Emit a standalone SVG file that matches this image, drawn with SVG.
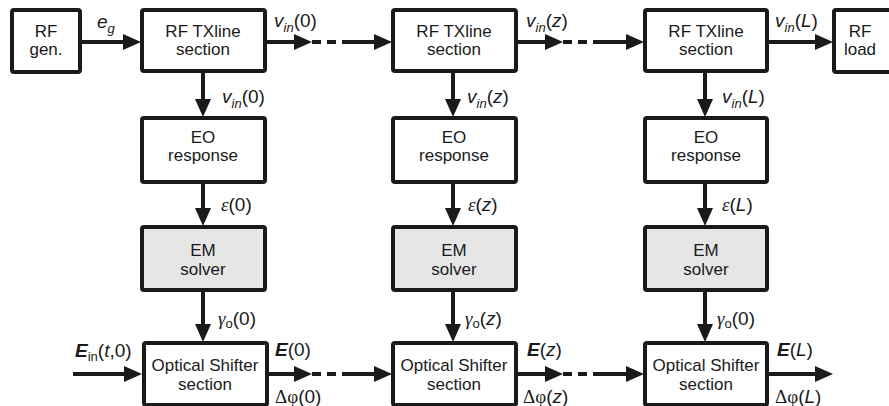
<svg xmlns="http://www.w3.org/2000/svg" width="889" height="406" viewBox="0 0 889 406">
<defs>
<marker id="ah" markerUnits="userSpaceOnUse" markerWidth="18" markerHeight="16" refX="0" refY="8" orient="auto" overflow="visible">
<path d="M0,0 L18,8 L0,16 z" fill="#1a1a1a"/>
</marker>
<style>
.box{fill:#fff;stroke:#1a1a1a;stroke-width:4}
.gray{fill:#e6e6e6}
.t{font-family:"Liberation Sans",Arial,sans-serif;font-size:17px;fill:#1a1a1a;text-anchor:middle}
.lbl{font-family:"Liberation Sans",Arial,sans-serif;font-size:19px;fill:#1a1a1a}
.it{font-style:italic}
.bi{font-style:italic;font-weight:bold}
.sub{font-size:13px}
.gr{font-family:"Liberation Serif","Times New Roman",serif}
.ln{stroke:#1a1a1a;stroke-width:4;fill:none}
.ar{marker-end:url(#ah)}
.da{stroke-dasharray:9 6}
</style>
</defs>
<g id="connectors">
<line class="ln ar" x1="80" y1="42" x2="123" y2="42"/>
<line class="ln ar" x1="265" y1="42" x2="294" y2="42"/>
<line class="ln da" x1="312" y1="42" x2="343" y2="42"/>
<line class="ln ar" x1="342" y1="42" x2="374" y2="42"/>
<line class="ln ar" x1="516" y1="42" x2="545" y2="42"/>
<line class="ln da" x1="563" y1="42" x2="597" y2="42"/>
<line class="ln ar" x1="596" y1="42" x2="626" y2="42"/>
<line class="ln ar" x1="767" y1="42" x2="815" y2="42"/>
<line class="ln ar" x1="203" y1="71" x2="203" y2="99"/>
<line class="ln ar" x1="203" y1="182" x2="203" y2="208"/>
<line class="ln ar" x1="203" y1="290" x2="203" y2="324"/>
<line class="ln ar" x1="453" y1="71" x2="453" y2="99"/>
<line class="ln ar" x1="453" y1="182" x2="453" y2="208"/>
<line class="ln ar" x1="453" y1="290" x2="453" y2="324"/>
<line class="ln ar" x1="705" y1="71" x2="705" y2="99"/>
<line class="ln ar" x1="705" y1="182" x2="705" y2="208"/>
<line class="ln ar" x1="705" y1="290" x2="705" y2="324"/>
<line class="ln ar" x1="73" y1="374" x2="124" y2="374"/>
<line class="ln ar" x1="266" y1="374" x2="294" y2="374"/>
<line class="ln da" x1="312" y1="374" x2="343" y2="374"/>
<line class="ln ar" x1="342" y1="374" x2="374" y2="374"/>
<line class="ln ar" x1="516" y1="374" x2="545" y2="374"/>
<line class="ln da" x1="563" y1="374" x2="597" y2="374"/>
<line class="ln ar" x1="596" y1="374" x2="626" y2="374"/>
<line class="ln ar" x1="767" y1="374" x2="815" y2="374"/>
</g>
<g id="rf-gen"><rect class="box" x="12" y="10" width="68" height="62" rx="2"/><text class="t" x="46" y="37">RF</text><text class="t" x="46" y="55">gen.</text></g>
<g id="rf-load"><rect class="box" x="834" y="10" width="60" height="62" rx="2"/><text class="t" x="860" y="37">RF</text><text class="t" x="860" y="55">load</text></g>
<g id="tx1"><rect class="box" x="142" y="10" width="123" height="61" rx="2"/><text class="t" x="203" y="37">RF TXline</text><text class="t" x="203" y="55">section</text></g>
<g id="tx2"><rect class="box" x="393" y="10" width="123" height="61" rx="2"/><text class="t" x="454" y="37">RF TXline</text><text class="t" x="454" y="55">section</text></g>
<g id="tx3"><rect class="box" x="645" y="10" width="122" height="61" rx="2"/><text class="t" x="706" y="37">RF TXline</text><text class="t" x="706" y="55">section</text></g>
<g id="eo1"><rect class="box" x="142" y="118" width="123" height="64" rx="2"/><text class="t" x="203" y="143">EO</text><text class="t" x="203" y="161">response</text></g>
<g id="eo2"><rect class="box" x="393" y="118" width="123" height="64" rx="2"/><text class="t" x="454" y="143">EO</text><text class="t" x="454" y="161">response</text></g>
<g id="eo3"><rect class="box" x="645" y="118" width="122" height="64" rx="2"/><text class="t" x="706" y="143">EO</text><text class="t" x="706" y="161">response</text></g>
<g id="em1"><rect class="box gray" x="142" y="227" width="123" height="63" rx="2"/><text class="t" x="203" y="256">EM</text><text class="t" x="203" y="275">solver</text></g>
<g id="em2"><rect class="box gray" x="393" y="227" width="123" height="63" rx="2"/><text class="t" x="454" y="256">EM</text><text class="t" x="454" y="275">solver</text></g>
<g id="em3"><rect class="box gray" x="645" y="227" width="122" height="63" rx="2"/><text class="t" x="706" y="256">EM</text><text class="t" x="706" y="275">solver</text></g>
<g id="os1"><rect class="box" x="144" y="343" width="123" height="62" rx="2"/><text class="t" x="205" y="371">Optical Shifter</text><text class="t" x="205" y="390">section</text></g>
<g id="os2"><rect class="box" x="393" y="343" width="123" height="62" rx="2"/><text class="t" x="454" y="371">Optical Shifter</text><text class="t" x="454" y="390">section</text></g>
<g id="os3"><rect class="box" x="645" y="343" width="122" height="62" rx="2"/><text class="t" x="706" y="371">Optical Shifter</text><text class="t" x="706" y="390">section</text></g>
<g id="labels">
<text class="lbl it" x="97" y="28">e<tspan class="sub" dy="5">g</tspan></text>
<text class="lbl" x="274" y="27"><tspan class="it">v</tspan><tspan class="it sub" dy="5">in</tspan><tspan dy="-5">(0)</tspan></text>
<text class="lbl" x="526" y="27"><tspan class="it">v</tspan><tspan class="it sub" dy="5">in</tspan><tspan dy="-5">(</tspan><tspan class="it">z</tspan>)</text>
<text class="lbl" x="775" y="27"><tspan class="it">v</tspan><tspan class="it sub" dy="5">in</tspan><tspan dy="-5">(</tspan><tspan class="it">L</tspan>)</text>
<text class="lbl" x="222" y="103"><tspan class="it">v</tspan><tspan class="it sub" dy="5">in</tspan><tspan dy="-5">(0)</tspan></text>
<text class="lbl" x="467" y="103"><tspan class="it">v</tspan><tspan class="it sub" dy="5">in</tspan><tspan dy="-5">(</tspan><tspan class="it">z</tspan>)</text>
<text class="lbl" x="722" y="103"><tspan class="it">v</tspan><tspan class="it sub" dy="5">in</tspan><tspan dy="-5">(</tspan><tspan class="it">L</tspan>)</text>
<text class="lbl" x="221" y="211"><tspan class="gr it">ε</tspan>(0)</text>
<text class="lbl" x="468" y="211"><tspan class="gr it">ε</tspan>(<tspan class="it">z</tspan>)</text>
<text class="lbl" x="722" y="211"><tspan class="gr it">ε</tspan>(<tspan class="it">L</tspan>)</text>
<text class="lbl" x="218" y="325"><tspan class="gr it">γ</tspan><tspan class="sub" dy="3">o</tspan><tspan dy="-3">(0)</tspan></text>
<text class="lbl" x="465" y="325"><tspan class="gr it">γ</tspan><tspan class="sub" dy="3">o</tspan><tspan dy="-3">(</tspan><tspan class="it">z</tspan>)</text>
<text class="lbl" x="717" y="325"><tspan class="gr it">γ</tspan><tspan class="sub" dy="3">o</tspan><tspan dy="-3">(0)</tspan></text>
<text class="lbl" x="75" y="357"><tspan class="bi">E</tspan><tspan class="sub" dy="4">in</tspan><tspan dy="-4">(</tspan><tspan class="it">t</tspan>,0)</text>
<text class="lbl" x="275" y="356"><tspan class="bi">E</tspan>(0)</text>
<text class="lbl" x="527" y="356"><tspan class="bi">E</tspan>(<tspan class="it">z</tspan>)</text>
<text class="lbl" x="777" y="356"><tspan class="bi">E</tspan>(<tspan class="it">L</tspan>)</text>
<text class="lbl" x="275" y="403"><tspan class="gr">Δφ</tspan>(0)</text>
<text class="lbl" x="523" y="403"><tspan class="gr">Δφ</tspan>(<tspan class="it">z</tspan>)</text>
<text class="lbl" x="775" y="403"><tspan class="gr">Δφ</tspan>(<tspan class="it">L</tspan>)</text>
</g>
</svg>
